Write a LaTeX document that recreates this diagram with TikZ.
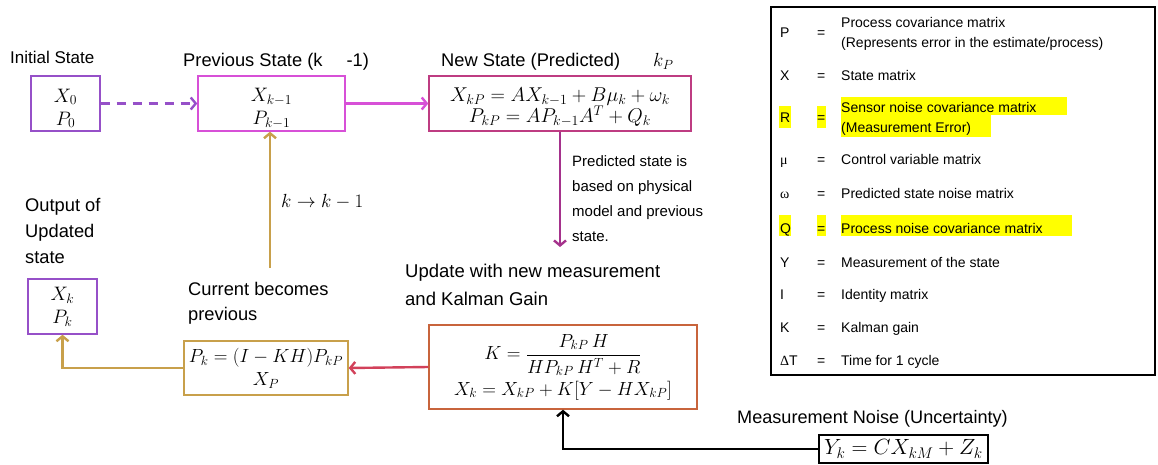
\RequirePackage{fix-cm}
\documentclass[tikz,border=0pt]{standalone}
\usepackage{amsmath}
\usepackage{fontspec}
\setmainfont{Liberation Sans}
\newfontfamily\serifgreek{Liberation Serif}
\usetikzlibrary{arrows.meta}
\definecolor{initc}{RGB}{150,80,200}
\definecolor{prevc}{RGB}{215,80,215}
\definecolor{newc}{RGB}{190,60,130}
\definecolor{downc}{RGB}{165,50,140}
\definecolor{updc}{RGB}{200,100,60}
\definecolor{redc}{RGB}{210,65,90}
\definecolor{goldc}{RGB}{200,160,75}
\definecolor{hly}{RGB}{255,255,0}
\newcommand{\dn}{\rule{0pt}{23pt}}
\begin{document}
\begin{tikzpicture}[x=1pt,y=-1pt,
  box/.style={draw,line width=1.4pt,inner sep=0pt,align=center,font=\fontsize{19.5}{23}\selectfont},
  lab/.style={inner sep=0pt,anchor=base west,align=left,font=\fontsize{18.3}{26}\selectfont},
  arr/.style={line width=2.4pt,-{Straight Barb[length=5pt,width=12pt]}},
  leg/.style={inner sep=0pt,anchor=base west,align=left,font=\fontsize{14}{20}\selectfont},
  hl/.style={fill=hly,draw=none}]
\useasboundingbox (0,0) rectangle (1158,465);

% boxes
\node[box,draw=initc,minimum width=69,minimum height=55] (init) at (65.5,103.5) {\dn$X_0$\\$P_0$};
\node[box,draw=prevc,minimum width=147,minimum height=55] (prev) at (271.5,103.5) {\dn$X_{k-1}$\\$P_{k-1}$};
\node[box,draw=newc,minimum width=262,minimum height=55,font=\fontsize{20}{21}\selectfont] (new) at (560,103.5)
  {\rule{0pt}{22pt}$X_{kP} = AX_{k-1} + B\mu_k + \omega_k$\\$P_{kP} = AP_{k-1}A^T + Q_k$};
\node[box,draw=updc,minimum width=268,minimum height=84,font=\fontsize{19}{23}\selectfont] (upd) at (563,367)
  {$K = \dfrac{P_{kP}\,H}{HP_{kP}\,H^T + R}$\\[4pt]$X_k = X_{kP} + K[Y - HX_{kP}]$};
\node[box,draw=goldc,minimum width=164,minimum height=54,font=\fontsize{19}{23}\selectfont] (cur) at (266,368)
  {$P_k = (I - KH)P_{kP}$\\$X_P$};
\node[box,draw=initc,minimum width=69,minimum height=55] (out) at (62.5,306.5) {$X_k$\\$P_k$};
\node[box,draw=black,minimum width=169,minimum height=28,font=\fontsize{22}{26}\selectfont] (meas) at (903.5,449) {$Y_k = CX_{kM} + Z_k$};

% labels (anchor base = baseline of last line)
\node[lab,font=\fontsize{17}{26}\selectfont] (linit) at (10,64) {Initial State};
\node[lab] (lprev) at (183,67) {Previous State (k\hspace{24pt}-1)};
\node[lab] (lnew) at (441,67) {New State (Predicted)};
\node[lab,font=\fontsize{19}{24}\selectfont] (lkp) at (653,67) {$k_P$};
\node[lab] (lout) at (25,263) {Output of\\Updated\\state};
\node[lab,font=\fontsize{18.3}{25}\selectfont] (lcur) at (188,320) {Current becomes\\previous};
\node[lab,font=\fontsize{19}{24}\selectfont] (lkk) at (281,207) {$k \rightarrow k-1$};
\node[lab,font=\fontsize{15}{25}\selectfont] (lpred) at (572,241) {Predicted state is\\based on physical\\model and previous\\state.};
\node[lab,font=\fontsize{18.5}{28}\selectfont] (lupd) at (405,305) {Update with new measurement\\and Kalman Gain};
\node[lab,font=\fontsize{18.1}{24}\selectfont] (lmeas) at (737,423) {Measurement Noise (Uncertainty)};

% connectors
\coordinate (kc) at (270,268);
\coordinate (pe) at (new.south |- 0,247);
\draw[arr,initc,dashed,dash pattern=on 9pt off 7pt] (init.east) -- (prev.west);
\draw[arr,prevc] (prev.east) -- (new.west);
\draw[arr,downc] (new.south) -- (pe);
\draw[arr,goldc] (kc) -- (kc |- prev.south);
\draw[arr,redc] (upd.west) -- (cur.east);
\draw[arr,goldc] (cur.west) -| (out.south);
\draw[arr,black] (meas.west) -| (upd.south);

% legend
\node[draw,line width=1.2pt,minimum width=384,minimum height=368,inner sep=0pt] (legend) at (963,191) {};
\fill[hl] (779,106) rectangle (791,128);
\fill[hl] (817,106) rectangle (826,128);
\fill[hl] (841,97) rectangle (1067,115);
\fill[hl] (841,115) rectangle (991,137);
\fill[hl] (779,215) rectangle (791,236);
\fill[hl] (817,215) rectangle (826,236);
\fill[hl] (841,215) rectangle (1072,236);

\node[leg] (sP) at (780,38) {P};
\node[leg] (eP) at (817,38) {=};
\node[leg] (tP) at (841,48) {Process covariance matrix\\(Represents error in the estimate/process)};
\node[leg] (sX) at (780,81) {X};
\node[leg] (eX) at (817,81) {=};
\node[leg] (tX) at (841,81) {State matrix};
\node[leg] (sR) at (780,123) {R};
\node[leg] (eR) at (817,123) {=};
\node[leg] (tR) at (841,133) {Sensor noise covariance matrix\\(Measurement Error)};
\node[leg] (sM) at (780,165) {\serifgreek μ};
\node[leg] (eM) at (817,165) {=};
\node[leg] (tM) at (841,165) {Control variable matrix};
\node[leg] (sW) at (780,198) {\serifgreek ω};
\node[leg] (eW) at (817,198) {=};
\node[leg] (tW) at (841,198) {Predicted state noise matrix};
\node[leg] (sQ) at (780,233) {Q};
\node[leg] (eQ) at (817,233) {=};
\node[leg] (tQ) at (841,233) {Process noise covariance matrix};
\node[leg] (sY) at (780,267) {Y};
\node[leg] (eY) at (817,267) {=};
\node[leg] (tY) at (841,267) {Measurement of the state};
\node[leg] (sI) at (780,299) {I};
\node[leg] (eI) at (817,299) {=};
\node[leg] (tI) at (841,299) {Identity matrix};
\node[leg] (sK) at (780,332) {K};
\node[leg] (eK) at (817,332) {=};
\node[leg] (tK) at (841,332) {Kalman gain};
\node[leg] (sT) at (780,365) {{\serifgreek Δ}T};
\node[leg] (eT) at (817,365) {=};
\node[leg] (tT) at (841,365) {Time for 1 cycle};
\end{tikzpicture}
\end{document}
